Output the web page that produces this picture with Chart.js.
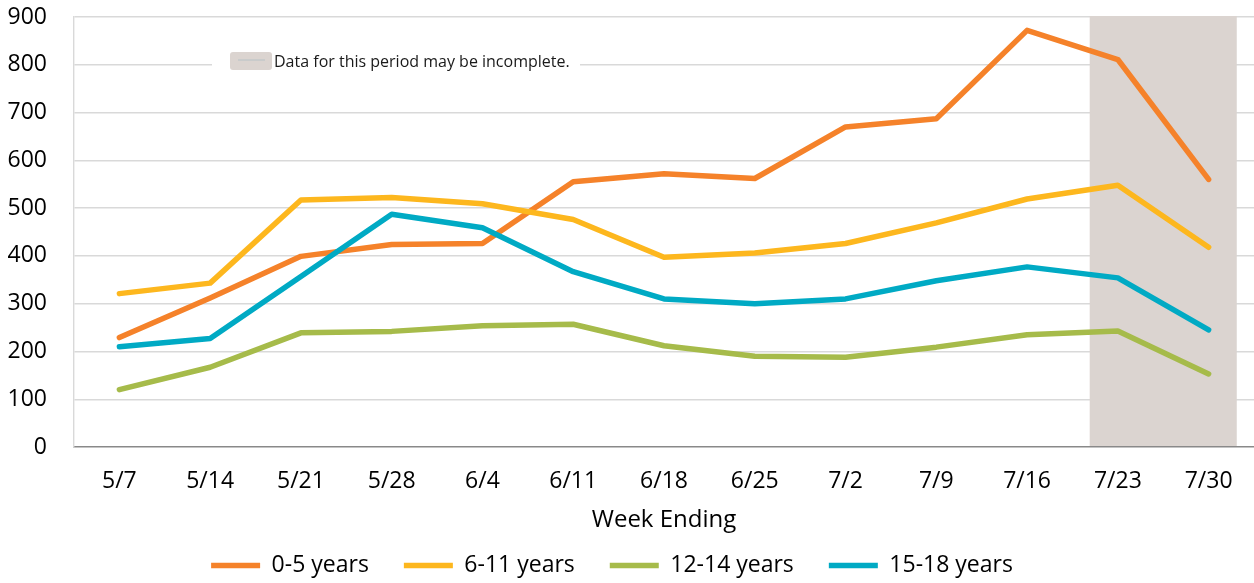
<!DOCTYPE html>
<html>
<head>
<meta charset="utf-8">
<script src="https://cdn.jsdelivr.net/npm/chart.js@4.4.1/dist/chart.umd.min.js"></script>
<style>
  html, body { margin: 0; padding: 0; background: #ffffff; }
  #wrap { width: 1254px; height: 583px; position: relative; }
</style>
</head>
<body>
<div id="wrap"><canvas id="c" width="1254" height="583"></canvas></div>
<script>
// ---- Data ----
const categories = ['5/7', '5/14', '5/21', '5/28', '6/4', '6/11', '6/18', '6/25', '7/2', '7/9', '7/16', '7/23', '7/30'];
const seriesNames = ['0-5 years', '6-11 years', '12-14 years', '15-18 years'];
const age0to5   = [229, 312, 399, 424, 426, 555, 572, 562, 670, 687, 872, 811, 560];
const age6to11  = [321, 343, 517, 522, 509, 476, 397, 406, 426, 469, 519, 548, 418];
const age12to14 = [120, 167, 239, 242, 254, 257, 212, 190, 188, 209, 235, 243, 153];
const age15to18 = [210, 227, 357, 487, 459, 367, 310, 300, 310, 348, 377, 354, 245];
const incompleteWeeks = ['7/23', '7/30'];
const noteText = 'Data for this period may be incomplete.';
const yMin = 0, yMax = 900, yStep = 100;
const xTitle = 'Week Ending';

// ---- Styles ----
const colors = ['#F5822A', '#FDB71E', '#A6BB4A', '#00AAC4'];
const shadeColor = '#DBD4D0';
const FONT = "'Open Sans', 'Noto Sans', sans-serif";

const seriesValues = [age0to5, age6to11, age12to14, age15to18];
const datasets = seriesValues.map((vals, i) => ({
  label: seriesNames[i],
  data: vals,
  borderColor: colors[i],
  backgroundColor: colors[i],
  borderWidth: 5.5,
  borderCapStyle: 'round',
  borderJoinStyle: 'round',
  pointRadius: 0,
  pointHoverRadius: 0,
  tension: 0,
  fill: false,
  order: seriesValues.length - i
}));

const shadePlugin = {
  id: 'incompleteShade',
  beforeDraw(chart) {
    // nudge the centred legend slightly left, as in the original
    const lg = chart.legend;
    if (lg && !lg._nudged) { lg.left -= 15; lg.right -= 15; lg._nudged = true; }
  },
  beforeDatasetsDraw(chart) {
    const {ctx, chartArea} = chart;
    const xs = chart.scales.x;
    const i0 = categories.indexOf(incompleteWeeks[0]);
    const i1 = categories.indexOf(incompleteWeeks[incompleteWeeks.length - 1]);
    const step = xs.getPixelForValue(1) - xs.getPixelForValue(0);
    const left = xs.getPixelForValue(i0) - 0.31 * step;
    const right = xs.getPixelForValue(i1) + 0.31 * step;
    ctx.save();
    ctx.fillStyle = shadeColor;
    ctx.fillRect(left, chartArea.top - 1, right - left, chartArea.bottom - chartArea.top);

    // annotation (legend entry for the shaded period)
    const bx = chartArea.left + 138, by = chartArea.top + 32;
    ctx.fillStyle = '#ffffff';
    ctx.fillRect(bx, by, 368, 24);
    const mx = bx + 18, my = by + 3, mw = 42, mh = 18, r = 3;
    ctx.fillStyle = shadeColor;
    ctx.beginPath();
    ctx.moveTo(mx + r, my);
    ctx.lineTo(mx + mw - r, my); ctx.quadraticCurveTo(mx + mw, my, mx + mw, my + r);
    ctx.lineTo(mx + mw, my + mh - r); ctx.quadraticCurveTo(mx + mw, my + mh, mx + mw - r, my + mh);
    ctx.lineTo(mx + r, my + mh); ctx.quadraticCurveTo(mx, my + mh, mx, my + mh - r);
    ctx.lineTo(mx, my + r); ctx.quadraticCurveTo(mx, my, mx + r, my);
    ctx.closePath();
    ctx.fill();
    ctx.strokeStyle = '#c9cbcb';
    ctx.lineWidth = 2;
    ctx.beginPath();
    ctx.moveTo(mx + 8, my + 8); ctx.lineTo(mx + 35, my + 8);
    ctx.stroke();
    ctx.fillStyle = '#1a1a1a';
    ctx.font = "16px " + FONT;
    ctx.textAlign = 'left';
    ctx.textBaseline = 'alphabetic';
    ctx.fillText(noteText, mx + mw + 2, by + 18);
    ctx.restore();
  }
};

new Chart(document.getElementById('c'), {
  type: 'line',
  data: { labels: categories, datasets },
  plugins: [shadePlugin],
  options: {
    responsive: false,
    devicePixelRatio: 1,
    animation: false,
    events: [],
    layout: { padding: { top: 17, left: 0, right: 0, bottom: -4 } },
    plugins: {
      tooltip: { enabled: false },
      title: { display: false },
      legend: {
        display: true,
        position: 'bottom',
        align: 'center',
        labels: {
          usePointStyle: true,
          pointStyle: 'line',
          pointStyleWidth: 49,
          boxHeight: 23,
          padding: 35,
          color: '#000000',
          font: { family: FONT, size: 23 },
          sort: (a, b) => a.datasetIndex - b.datasetIndex
        }
      }
    },
    scales: {
      x: {
        type: 'category',
        offset: true,
        grid: { display: false, drawTicks: false },
        border: { display: true, color: '#898989', width: 1.6 },
        ticks: {
          color: '#000000',
          font: { family: FONT, size: 23 },
          padding: 21,
          maxRotation: 0,
          autoSkip: false
        },
        title: {
          display: true,
          text: xTitle,
          color: '#000000',
          font: { family: FONT, size: 24 },
          padding: { top: 0, bottom: -16 }
        },
        afterFit(scale) { scale.height = 72; scale.paddingLeft = 0; scale.paddingRight = 0; }
      },
      y: {
        min: yMin,
        max: yMax,
        grid: {
          drawTicks: false,
          lineWidth: 1.4,
          color: (c) => (c.tick && c.tick.value === 0) ? 'rgba(0,0,0,0)' : '#d9d9d9'
        },
        border: { display: true, color: '#d9d9d9', width: 1.4 },
        ticks: {
          stepSize: yStep,
          color: '#000000',
          font: { family: FONT, size: 23 },
          padding: 27
        },
        afterFit(scale) { scale.width = 74; scale.paddingTop = 0; scale.paddingBottom = 0; }
      }
    }
  }
});
</script>
</body>
</html>
